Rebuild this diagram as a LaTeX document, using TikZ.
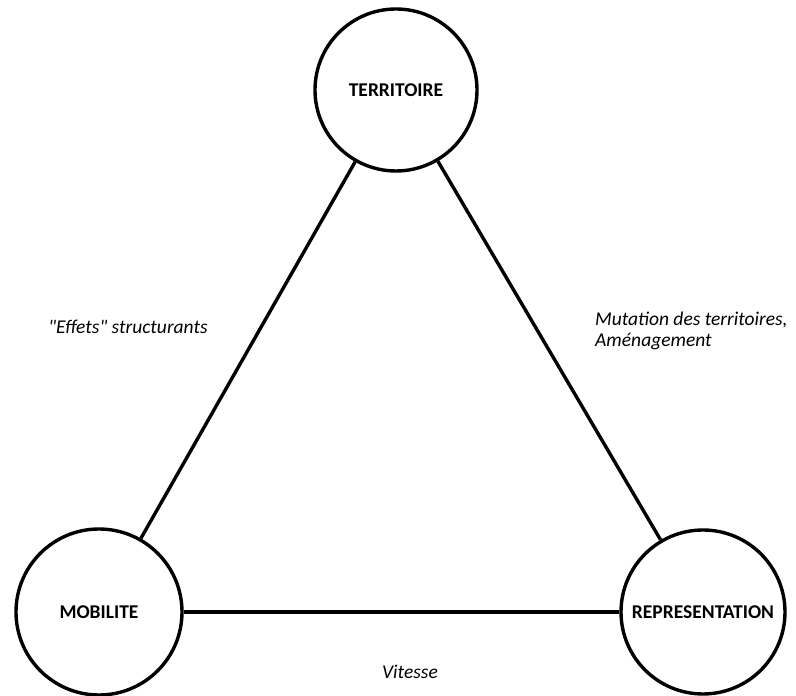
\documentclass[tikz,border=0pt]{standalone}
\usepackage{fontspec}
\setmainfont{Carlito}[Ligatures=TeXOff]
\begin{document}
\begin{tikzpicture}[x=1pt,y=1pt,
  pole/.style={circle,draw=black,line width=3.4pt,inner sep=0pt,fill=white,
    font=\fontsize{19.5}{21}\selectfont\bfseries},
  link/.style={line width=3.4pt,draw=black},
  lab/.style={font=\fontsize{19.5}{21}\selectfont\itshape,inner sep=0pt}]
\useasboundingbox (0,0) rectangle (796,696);
\node[pole,minimum size=162pt] (T) at (396,606) {TERRITOIRE};
\node[pole,minimum size=166pt] (M) at (99,84) {MOBILITE};
\node[pole,minimum size=164pt] (R) at (703,84) {REPRESENTATION};
\draw[link] (T) -- (M);
\draw[link] (T) -- (R);
\draw[link] (M) -- (R);
\node[lab] (l1) at (128,369) {"Effets" structurants};
\node[lab,anchor=west,align=left] (l2) at (595,365) {Mutation des territoires,\\Aménagement};
\node[lab] (l3) at (410,24) {Vitesse};
\end{tikzpicture}
\end{document}
